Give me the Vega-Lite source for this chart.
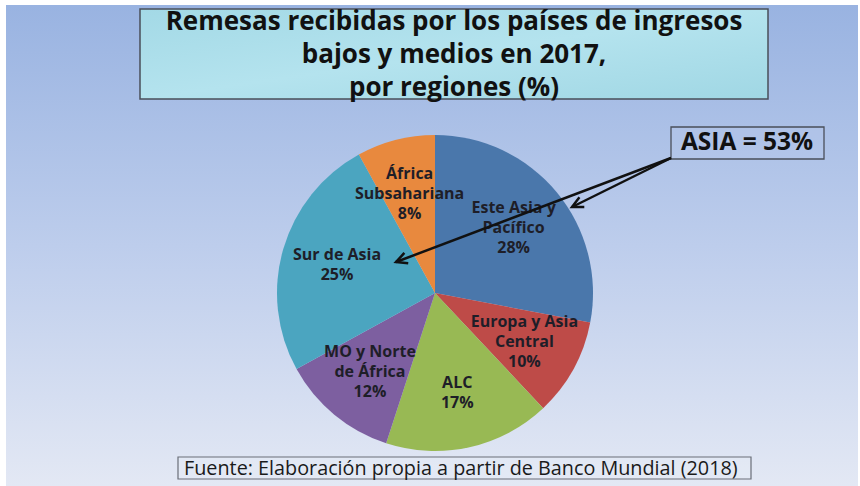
{
  "$schema": "https://vega.github.io/schema/vega-lite/v6.json",
  "width": 860,
  "height": 486,
  "autosize": {"type": "fit", "contains": "padding"},
  "padding": {"left": 6, "top": 5, "right": 2, "bottom": 0},
  "background": "white",
  "view": {
    "stroke": null,
    "fill": {"gradient": "linear", "x1": 0, "y1": 0, "x2": 0, "y2": 1,
      "stops": [{"offset": 0, "color": "#99B3E1"}, {"offset": 0.5, "color": "#BDCDEC"}, {"offset": 1, "color": "#E3E8F4"}]}
  },
  "datasets": {
    "regiones": [
      {"region": "Este Asia y Pacífico", "etiqueta": "Este Asia y\nPacífico\n28%", "valor": 28, "orden": 1, "lineas": 3},
      {"region": "Europa y Asia Central", "etiqueta": "Europa y Asia\nCentral\n10%", "valor": 10, "orden": 2, "lineas": 3},
      {"region": "ALC", "etiqueta": "ALC\n17%", "valor": 17, "orden": 3, "lineas": 2},
      {"region": "MO y Norte de África", "etiqueta": "MO y Norte\nde África\n12%", "valor": 12, "orden": 4, "lineas": 3},
      {"region": "Sur de Asia", "etiqueta": "Sur de Asia\n25%", "valor": 25, "orden": 5, "lineas": 2},
      {"region": "África Subsahariana", "etiqueta": "África\nSubsahariana\n8%", "valor": 8, "orden": 6, "lineas": 3}
    ]
  },
  "layer": [
    {
      "data": {"values": [{}]},
      "mark": {"type": "rect", "fill": {"gradient": "linear", "x1": 0, "y1": 0, "x2": 1, "y2": 1,
        "stops": [{"offset": 0, "color": "#A3D9E6"}, {"offset": 0.5, "color": "#B4E3EE"}, {"offset": 1, "color": "#A0D7E4"}]},
        "stroke": "#4A4F5A", "strokeWidth": 1.5},
      "encoding": {
        "x": {"datum": 140, "type": "quantitative", "scale": {"domain": [6, 858], "nice": false, "zero": false}, "axis": null},
        "x2": {"datum": 768},
        "y": {"datum": 9, "type": "quantitative", "scale": {"domain": [5, 486], "reverse": true, "nice": false, "zero": false}, "axis": null},
        "y2": {"datum": 99}
      }
    },
    {
      "data": {"values": [{}]},
      "mark": {"type": "text", "font": "Open Sans", "fontWeight": "bold", "fontSize": 26, "color": "#111111", "align": "center", "baseline": "middle", "lineHeight": 33},
      "encoding": {
        "x": {"datum": 454, "type": "quantitative", "scale": {"domain": [6, 858], "nice": false, "zero": false}, "axis": null},
        "y": {"datum": 22, "type": "quantitative", "scale": {"domain": [5, 486], "reverse": true, "nice": false, "zero": false}, "axis": null},
        "text": {"value": ["Remesas recibidas por los países de ingresos", "bajos y medios en 2017,", "por regiones (%)"]}
      }
    },
    {
      "data": {"name": "regiones"},
      "mark": {"type": "arc", "outerRadius": 158},
      "encoding": {
        "x": {"datum": 435, "type": "quantitative", "scale": {"domain": [6, 858], "nice": false, "zero": false}, "axis": null},
        "y": {"datum": 293, "type": "quantitative", "scale": {"domain": [5, 486], "reverse": true, "nice": false, "zero": false}, "axis": null},
        "theta": {"field": "valor", "type": "quantitative", "stack": true},
        "order": {"field": "orden", "type": "quantitative"},
        "color": {"field": "region", "type": "nominal", "legend": null,
          "scale": {"domain": ["Este Asia y Pacífico", "Europa y Asia Central", "ALC", "MO y Norte de África", "Sur de Asia", "África Subsahariana"],
            "range": ["#4A77AB", "#BE4B48", "#98B954", "#7D5FA0", "#4BA5C0", "#E8893E"]}}
      }
    },
    {
      "data": {"name": "regiones"},
      "mark": {"type": "text", "radius": 102, "dy": -20, "font": "Open Sans", "fontWeight": "bold", "fontSize": 16, "color": "#1E1E28", "align": "center", "baseline": "middle", "lineBreak": "\n", "lineHeight": 20},
      "encoding": {
        "x": {"datum": 435, "type": "quantitative", "scale": {"domain": [6, 858], "nice": false, "zero": false}, "axis": null},
        "y": {"datum": 293, "type": "quantitative", "scale": {"domain": [5, 486], "reverse": true, "nice": false, "zero": false}, "axis": null},
        "theta": {"field": "valor", "type": "quantitative", "stack": true},
        "order": {"field": "orden", "type": "quantitative"},
        "text": {"condition": {"test": "datum.lineas == 3", "field": "etiqueta"}, "value": ""}
      }
    },
    {
      "data": {"name": "regiones"},
      "mark": {"type": "text", "radius": 102, "dy": -10, "font": "Open Sans", "fontWeight": "bold", "fontSize": 16, "color": "#1E1E28", "align": "center", "baseline": "middle", "lineBreak": "\n", "lineHeight": 20},
      "encoding": {
        "x": {"datum": 435, "type": "quantitative", "scale": {"domain": [6, 858], "nice": false, "zero": false}, "axis": null},
        "y": {"datum": 293, "type": "quantitative", "scale": {"domain": [5, 486], "reverse": true, "nice": false, "zero": false}, "axis": null},
        "theta": {"field": "valor", "type": "quantitative", "stack": true},
        "order": {"field": "orden", "type": "quantitative"},
        "text": {"condition": {"test": "datum.lineas == 2", "field": "etiqueta"}, "value": ""}
      }
    },
    {
      "data": {"values": [{}]},
      "mark": {"type": "rect", "fill": "#B9CBEC", "fillOpacity": 0.3, "stroke": "#4A4F5A", "strokeWidth": 1.3},
      "encoding": {
        "x": {"datum": 671, "type": "quantitative", "scale": {"domain": [6, 858], "nice": false, "zero": false}, "axis": null},
        "x2": {"datum": 824},
        "y": {"datum": 127, "type": "quantitative", "scale": {"domain": [5, 486], "reverse": true, "nice": false, "zero": false}, "axis": null},
        "y2": {"datum": 159}
      }
    },
    {
      "data": {"values": [{}]},
      "mark": {"type": "text", "font": "Open Sans", "fontWeight": "bold", "fontSize": 24.5, "color": "#111111", "align": "center", "baseline": "middle"},
      "encoding": {
        "x": {"datum": 747, "type": "quantitative", "scale": {"domain": [6, 858], "nice": false, "zero": false}, "axis": null},
        "y": {"datum": 143, "type": "quantitative", "scale": {"domain": [5, 486], "reverse": true, "nice": false, "zero": false}, "axis": null},
        "text": {"value": "ASIA = 53%"}
      }
    },
    {
      "data": {"values": [{}]},
      "mark": {"type": "rule", "stroke": "#111111", "strokeWidth": 2.5},
      "encoding": {
        "x": {"datum": 671, "type": "quantitative", "scale": {"domain": [6, 858], "nice": false, "zero": false}, "axis": null},
        "x2": {"datum": 396},
        "y": {"datum": 158, "type": "quantitative", "scale": {"domain": [5, 486], "reverse": true, "nice": false, "zero": false}, "axis": null},
        "y2": {"datum": 262}
      }
    },
    {
      "data": {"values": [{}]},
      "mark": {"type": "rule", "stroke": "#111111", "strokeWidth": 2.5},
      "encoding": {
        "x": {"datum": 671, "type": "quantitative", "scale": {"domain": [6, 858], "nice": false, "zero": false}, "axis": null},
        "x2": {"datum": 572},
        "y": {"datum": 158, "type": "quantitative", "scale": {"domain": [5, 486], "reverse": true, "nice": false, "zero": false}, "axis": null},
        "y2": {"datum": 207}
      }
    },
    {
      "data": {"values": [{}]},
      "mark": {"type": "point", "shape": "M-0.5,1 L0,0 L0.5,1", "filled": false, "stroke": "#111111", "strokeWidth": 2.5, "size": 484, "angle": 249.3, "opacity": 1},
      "encoding": {
        "x": {"datum": 396, "type": "quantitative", "scale": {"domain": [6, 858], "nice": false, "zero": false}, "axis": null},
        "y": {"datum": 262, "type": "quantitative", "scale": {"domain": [5, 486], "reverse": true, "nice": false, "zero": false}, "axis": null}
      }
    },
    {
      "data": {"values": [{}]},
      "mark": {"type": "point", "shape": "M-0.5,1 L0,0 L0.5,1", "filled": false, "stroke": "#111111", "strokeWidth": 2.5, "size": 484, "angle": 243.7, "opacity": 1},
      "encoding": {
        "x": {"datum": 572, "type": "quantitative", "scale": {"domain": [6, 858], "nice": false, "zero": false}, "axis": null},
        "y": {"datum": 207, "type": "quantitative", "scale": {"domain": [5, 486], "reverse": true, "nice": false, "zero": false}, "axis": null}
      }
    },
    {
      "data": {"values": [{}]},
      "mark": {"type": "rect", "fill": "#E6EBF6", "fillOpacity": 0.5, "stroke": "#6A6E78", "strokeWidth": 1.2},
      "encoding": {
        "x": {"datum": 178, "type": "quantitative", "scale": {"domain": [6, 858], "nice": false, "zero": false}, "axis": null},
        "x2": {"datum": 751},
        "y": {"datum": 457, "type": "quantitative", "scale": {"domain": [5, 486], "reverse": true, "nice": false, "zero": false}, "axis": null},
        "y2": {"datum": 479}
      }
    },
    {
      "data": {"values": [{}]},
      "mark": {"type": "text", "font": "Open Sans", "fontSize": 19.8, "color": "#1A1A1A", "align": "left", "baseline": "middle"},
      "encoding": {
        "x": {"datum": 184, "type": "quantitative", "scale": {"domain": [6, 858], "nice": false, "zero": false}, "axis": null},
        "y": {"datum": 468.5, "type": "quantitative", "scale": {"domain": [5, 486], "reverse": true, "nice": false, "zero": false}, "axis": null},
        "text": {"value": "Fuente: Elaboración propia a partir de Banco Mundial (2018)"}
      }
    }
  ]
}
